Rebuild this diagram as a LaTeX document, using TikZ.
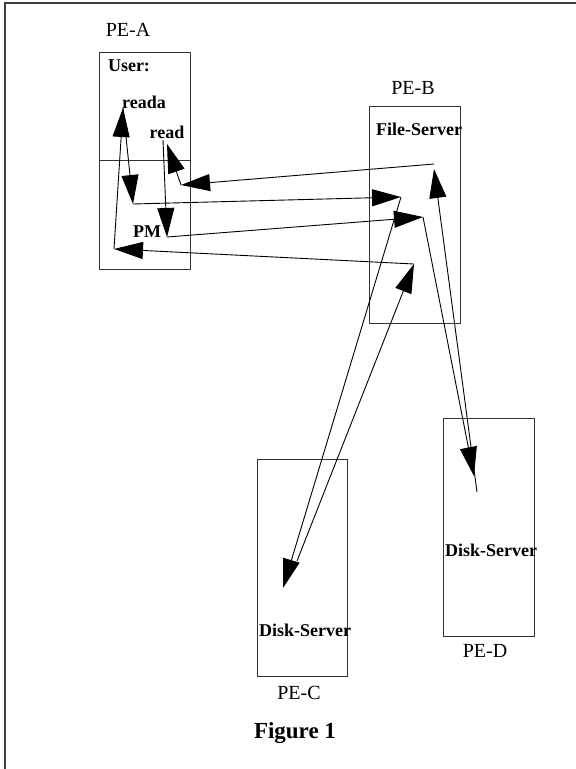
\documentclass[tikz,border=0pt]{standalone}
\usepackage{fontspec}
\setmainfont{Liberation Serif}
\usetikzlibrary{arrows.meta}

\begin{document}
\begin{tikzpicture}[x=1pt,y=-1pt,
	pebox/.style={draw=black!80, line width=0.9pt},
	pename/.style={font=\fontsize{20}{22}\selectfont, inner sep=0pt},
	proc/.style={font=\bfseries\fontsize{18}{20}\selectfont, inner sep=0pt},
	msg/.style={line width=0.9pt, -{Triangle[length=29pt,width=17pt]}}]
	% Parameters
	\def\boxw{91}
	\def\boxh{217}
	
	\useasboundingbox (0,0) rectangle (576,769);
	
	%frame
	\draw[line width=1.2pt, black!75] (5,769) -- (5,3) -- (576,3);
	
	%blocks
	\draw[pebox] (99,52) rectangle ++(\boxw,\boxh);
	\draw[pebox] (99,160) -- ++(\boxw,0);
	\draw[pebox] (369,106) rectangle ++(\boxw,\boxh);
	\draw[pebox] (257,459) rectangle ++(\boxw-1,\boxh);
	\draw[pebox] (443,418) rectangle ++(\boxw,\boxh+1);
	
	%names
	\node[pename] (peA) at (128,30) {PE-A};
	\node[pename] (peB) at (413,88) {PE-B};
	\node[pename] (peC) at (299,693) {PE-C};
	\node[pename] (peD) at (485,651) {PE-D};
	\node[font=\bfseries\fontsize{23}{26}\selectfont, inner sep=0pt] (fig) at (295,733) {Figure 1};
	
	%processes
	\node[proc] (user) at (129,66) {User:};
	\node[proc] (reada) at (144,102) {reada};
	\node[proc] (read) at (167,132) {read};
	\node[proc] (pm) at (147,232) {PM};
	\node[proc] (fs) at (419,129) {File-Server};
	\node[proc] (dsC) at (305,630) {Disk-Server};
	\node[proc] (dsD) at (491,550) {Disk-Server};
	
	%message points
	\coordinate (ra) at (123,108);
	\coordinate (pmA) at (133,204);
	\coordinate (pmB) at (114,249);
	\coordinate (fsA) at (401,197);
	\coordinate (fsB) at (414,264);
	\coordinate (dcA) at (283,588);
	\coordinate (dcB) at (297,561);
	\coordinate (rd) at (163,140);
	\coordinate (rdR) at (167,144);
	\coordinate (pmC) at (167,237);
	\coordinate (pmD) at (181,185);
	\coordinate (fsC) at (423,217);
	\coordinate (fsD) at (434,164);
	\coordinate (fsE) at (434,169);
	\coordinate (ddA) at (474,476);
	\coordinate (ddB) at (477,492);
	
	%reada path
	\draw[msg] (ra) -- (pmA);
	\draw[msg] (pmA) -- (fsA);
	\draw[msg] (fsA) -- (dcA);
	\draw[msg] (dcB) -- (fsB);
	\draw[msg] (fsB) -- (pmB);
	\draw[msg] (pmB) -- (ra);
	
	%read path
	\draw[msg] (rd) -- (pmC);
	\draw[msg] (pmC) -- (fsC);
	\draw[msg] (fsC) -- (ddA);
	\draw[msg] (ddB) -- (fsE);
	\draw[msg] (fsD) -- (pmD);
	\draw[msg] (pmD) -- (rdR);
	
\end{tikzpicture}
\end{document}
